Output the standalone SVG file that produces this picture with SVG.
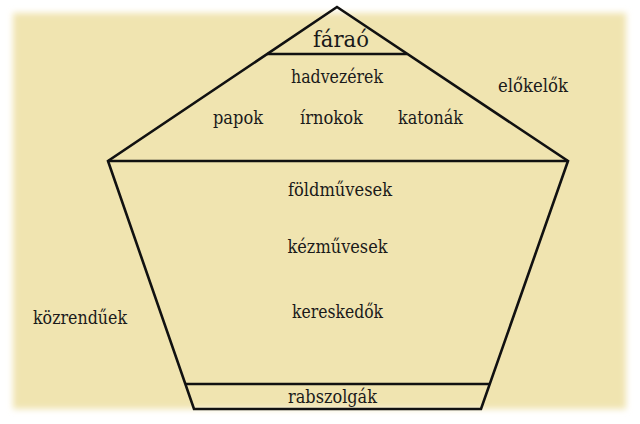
<svg xmlns="http://www.w3.org/2000/svg" width="640" height="424" viewBox="0 0 640 424">
  <defs>
    <filter id="soft" x="-5%" y="-5%" width="110%" height="110%">
      <feGaussianBlur stdDeviation="3"/>
    </filter>
  </defs>
  <style>
    .ln { fill: none; stroke: #111; stroke-width: 2.6; stroke-linejoin: miter; }
    text { font-family: "DejaVu Serif", "Liberation Serif", serif; font-size: 18px; fill: #1a1a1a; text-anchor: middle; }
    .big { font-size: 23px; }
  </style>
  <rect x="0" y="0" width="640" height="424" fill="#ffffff"/>
  <rect x="13" y="13" width="613" height="396" fill="#F0E4B0" filter="url(#soft)"/>
  <g id="connectors">
    <polygon class="ln" points="337,7 568,161 481,409 194,409 108,161"/>
    <line class="ln" x1="108" y1="161" x2="568" y2="161"/>
    <line class="ln" x1="267" y1="54" x2="407" y2="54"/>
    <line class="ln" x1="185" y1="384" x2="490" y2="384"/>
  </g>
  <g id="farao"><text class="big" x="341" y="47" textLength="56" lengthAdjust="spacingAndGlyphs">fáraó</text></g>
  <g id="hadvezerek"><text x="337" y="83" textLength="92" lengthAdjust="spacingAndGlyphs">hadvezérek</text></g>
  <g id="papok"><text x="238" y="124" textLength="50" lengthAdjust="spacingAndGlyphs">papok</text></g>
  <g id="irnokok"><text x="331.5" y="124" textLength="63" lengthAdjust="spacingAndGlyphs">írnokok</text></g>
  <g id="katonak"><text x="430.5" y="124" textLength="65" lengthAdjust="spacingAndGlyphs">katonák</text></g>
  <g id="elokelok"><text x="533" y="92" textLength="70" lengthAdjust="spacingAndGlyphs">előkelők</text></g>
  <g id="foldmuvesek"><text x="340" y="196" textLength="104" lengthAdjust="spacingAndGlyphs">földművesek</text></g>
  <g id="kezmuvesek"><text x="337.5" y="253" textLength="100" lengthAdjust="spacingAndGlyphs">kézművesek</text></g>
  <g id="kereskedok"><text x="337.5" y="318" textLength="91" lengthAdjust="spacingAndGlyphs">kereskedők</text></g>
  <g id="kozrenduek"><text x="80" y="324" textLength="94" lengthAdjust="spacingAndGlyphs">közrendűek</text></g>
  <g id="rabszolgak"><text x="332.5" y="403" textLength="89" lengthAdjust="spacingAndGlyphs">rabszolgák</text></g>
</svg>
